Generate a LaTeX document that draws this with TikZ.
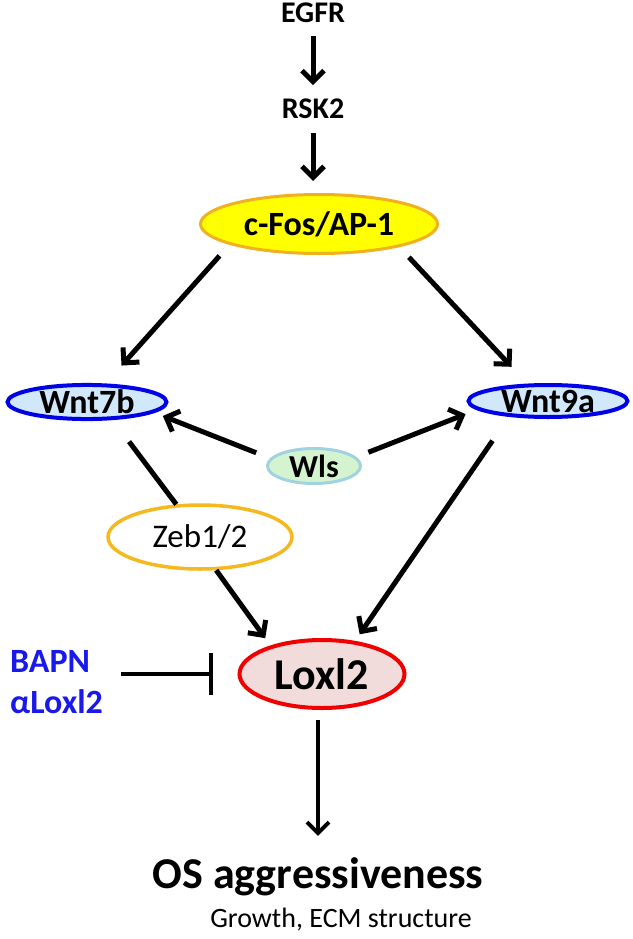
\documentclass[tikz,border=0pt]{standalone}
\usepackage{fontspec}
\setmainfont{Carlito}
\usetikzlibrary{shapes.geometric,arrows.meta}
\definecolor{fosfill}{RGB}{255,255,0}
\definecolor{fosline}{RGB}{240,176,32}
\definecolor{wntfill}{RGB}{208,232,250}
\definecolor{wntline}{RGB}{0,0,230}
\definecolor{wlsfill}{RGB}{212,244,208}
\definecolor{wlsline}{RGB}{160,210,225}
\definecolor{zebline}{RGB}{245,184,30}
\definecolor{loxfill}{RGB}{242,220,219}
\definecolor{loxline}{RGB}{240,0,0}
\definecolor{drugblue}{RGB}{25,25,235}
\begin{document}
\begin{tikzpicture}[x=1pt,y=-1pt,
  arr/.style={line width=5pt,-{Straight Barb[length=11pt,width=22pt]}},
  link/.style={line width=5pt},
  inh/.style={line width=3.5pt,-{Bar[width=42pt]}},
  lbl/.style={inner sep=0pt,font=\fontsize{30}{36}\selectfont\bfseries},
  oval/.style={ellipse,inner sep=0pt},
  fos/.style={oval,draw=fosline,fill=fosfill,line width=3pt,minimum width=237pt,minimum height=59pt,font=\fontsize{34}{40}\selectfont\bfseries},
  wnt/.style={oval,draw=wntline,fill=wntfill,line width=4pt,minimum width=159pt,minimum height=32pt,font=\fontsize{34}{40}\selectfont\bfseries},
  wlsnode/.style={oval,draw=wlsline,fill=wlsfill,line width=3pt,minimum width=93pt,minimum height=35pt,font=\fontsize{32}{38}\selectfont\bfseries},
  zebnode/.style={oval,draw=zebline,fill=white,line width=3.5pt,minimum width=184pt,minimum height=64pt,font=\fontsize{33}{40}\selectfont},
  loxnode/.style={oval,draw=loxline,fill=loxfill,line width=4pt,minimum width=165pt,minimum height=68pt,font=\fontsize{44}{52}\selectfont\bfseries},
  drug/.style={inner sep=0pt,align=left,text=drugblue,font=\fontsize{34}{41}\selectfont\bfseries},
  outcome/.style={inner sep=0pt,font=\fontsize{44}{52}\selectfont\bfseries},
  note/.style={inner sep=0pt,font=\fontsize{28}{34}\selectfont}]
  \path [fill=white,use as bounding box] (0,0) rectangle (632,939);
  \node [lbl,anchor=base] (egfr) at (313,23) {EGFR};
  \node [lbl,anchor=base] (rsk2) at (313,118) {RSK2};
  \node [fos] (cfos) at (319,224) {c-Fos/AP-1};
  \node [wnt] (wnt7b) at (87,402) {Wnt7b};
  \node [wnt] (wnt9a) at (548,401) {Wnt9a};
  \node [wlsnode] (wls) at (314,466) {Wls};
  \node [zebnode] (zeb) at (200,537) {Zeb1/2};
  \node [loxnode] (loxl2) at (322,674) {Loxl2};
  \node [drug,anchor=west] (drugs) at (10,682.5) {BAPN\\αLoxl2};
  \node [outcome,anchor=base] (os) at (318,888) {OS aggressiveness};
  \node [note,anchor=base] (growth) at (341,927) {Growth, ECM structure};
  \draw [arr,shorten <=13pt,shorten >=13pt] (egfr) -- (rsk2);
  \draw [arr,shorten <=15pt,shorten >=12pt] (rsk2.south) -- (rsk2.south |- cfos.north);
  \draw [arr,shorten <=15pt,shorten >=24pt] (cfos.193) -- (wnt7b.45);
  \draw [arr,shorten <=14pt,shorten >=23pt] (cfos.344) -- (wnt9a.140);
  \draw [arr,shorten <=15pt,shorten >=9pt] (wls.170) -- (wnt7b.351);
  \draw [arr,shorten <=13pt,shorten >=12pt] (wls.12) -- (wnt9a.187);
  \draw [link,shorten <=27pt] (wnt7b.325) -- (zeb.126);
  \draw [arr,shorten >=9pt] (zeb.296) -- (loxl2.151);
  \draw [arr,shorten <=29pt,shorten >=8pt] (wnt9a.202) -- (loxl2.45);
  \draw [inh,shorten <=18pt,shorten >=25pt] (drugs.east |- loxl2.west) -- (loxl2.west);
  \draw [arr,line width=4pt,shorten <=10pt,shorten >=21pt] (loxl2.south -| os.north) -- (os.north);
\end{tikzpicture}
\end{document}
